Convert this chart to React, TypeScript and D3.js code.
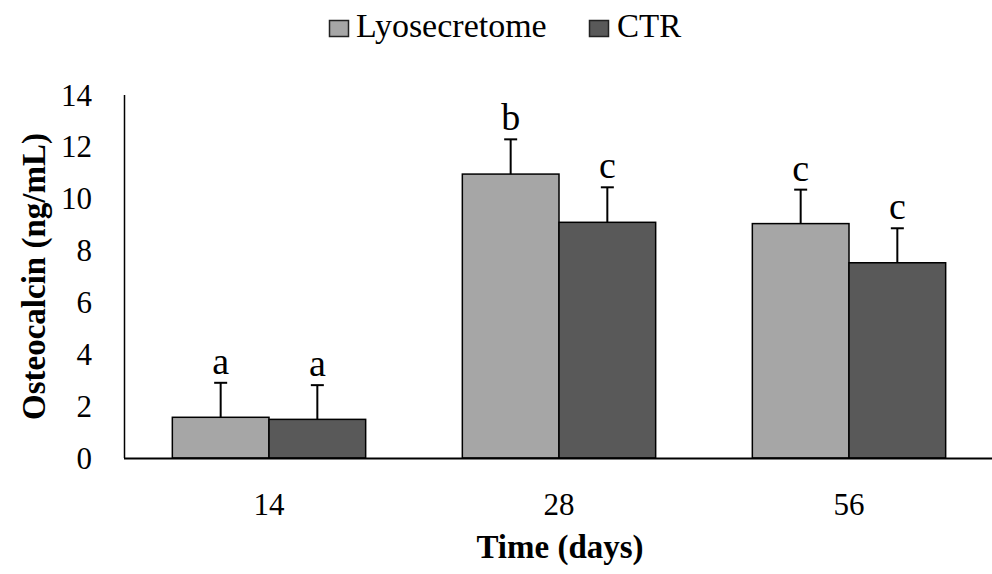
import React from "react";
import * as d3 from "d3";

const categories = ["14", "28", "56"];
const seriesNames = ["Lyosecretome", "CTR"];
const lyoValues = [1.57, 10.95, 9.04];
const ctrValues = [1.49, 9.09, 7.53];
const lyoErrors = [1.33, 1.34, 1.31];
const ctrErrors = [1.32, 1.35, 1.33];
const lyoLetters = ["a", "b", "c"];
const ctrLetters = ["a", "c", "c"];
const yTicks = [0, 2, 4, 6, 8, 10, 12, 14];
const colors = ["#a6a6a6", "#595959"];

const W = 992;
const H = 574;
const FONT = "'Liberation Serif', 'Times New Roman', serif";

export default function App() {
  const x0 = d3.scaleBand<string>().domain(categories).range([124, 994]).paddingInner(1 / 3).paddingOuter(1 / 6);
  const x1 = d3.scaleBand<string>().domain(seriesNames).range([0, x0.bandwidth()]);
  const y = d3.scaleLinear().domain([0, 14]).range([458, 95]);

  const series = [
    { name: seriesNames[0], values: lyoValues, errors: lyoErrors, letters: lyoLetters, color: colors[0] },
    { name: seriesNames[1], values: ctrValues, errors: ctrErrors, letters: ctrLetters, color: colors[1] },
  ];

  return (
    <svg width={W} height={H} style={{ position: "absolute", left: 0, top: 0, background: "#fff" }} fontFamily={FONT}>
      <rect x={0} y={0} width={W} height={H} fill="#fff" />
      {/* legend */}
      <g>
        <rect x={329.5} y={20.5} width={19} height={16} fill={colors[0]} stroke="#222" strokeWidth={1.5} />
        <text x={356} y={37} fontSize={34} fill="#000">{seriesNames[0]}</text>
        <rect x={589.5} y={20.5} width={19} height={16} fill={colors[1]} stroke="#222" strokeWidth={1.5} />
        <text x={617} y={37} fontSize={33} fill="#000">{seriesNames[1]}</text>
      </g>
      {/* y tick labels */}
      {yTicks.map((t) => (
        <text key={t} x={92} y={y(t)} dy="0.34em" textAnchor="end" fontSize={31} fill="#000">{t}</text>
      ))}
      {/* bars */}
      {series.map((s) =>
        categories.map((c, i) => {
          const bx = (x0(c) as number) + (x1(s.name) as number);
          const bw = x1.bandwidth();
          const cx = bx + bw / 2;
          const top = y(s.values[i]);
          const et = y(s.values[i] + s.errors[i]);
          return (
            <g key={s.name + c}>
              <rect x={bx} y={top} width={bw} height={y(0) - top} fill={s.color} stroke="#000" strokeWidth={1.5} />
              <line x1={cx} x2={cx} y1={top} y2={et} stroke="#000" strokeWidth={2} />
              <line x1={cx - 6.5} x2={cx + 6.5} y1={et} y2={et} stroke="#000" strokeWidth={2} />
              <text x={cx} y={et - 9} textAnchor="middle" fontSize={38} fill="#000">{s.letters[i]}</text>
            </g>
          );
        })
      )}
      {/* axes */}
      <line x1={124.5} x2={124.5} y1={95} y2={458} stroke="#000" strokeWidth={1.5} />
      <line x1={124} x2={W} y1={458.5} y2={458.5} stroke="#000" strokeWidth={2} />
      {/* x tick labels */}
      {categories.map((c) => (
        <text key={c} x={(x0(c) as number) + x0.bandwidth() / 2} y={515} textAnchor="middle" fontSize={31} fill="#000">{c}</text>
      ))}
      {/* axis titles */}
      <text x={560} y={558} textAnchor="middle" fontSize={33} fontWeight="bold" fill="#000">Time (days)</text>
      <text transform={`translate(45, ${(y(0) + y(14)) / 2}) rotate(-90)`} textAnchor="middle" fontSize={33} fontWeight="bold" fill="#000">Osteocalcin (ng/mL)</text>
    </svg>
  );
}
